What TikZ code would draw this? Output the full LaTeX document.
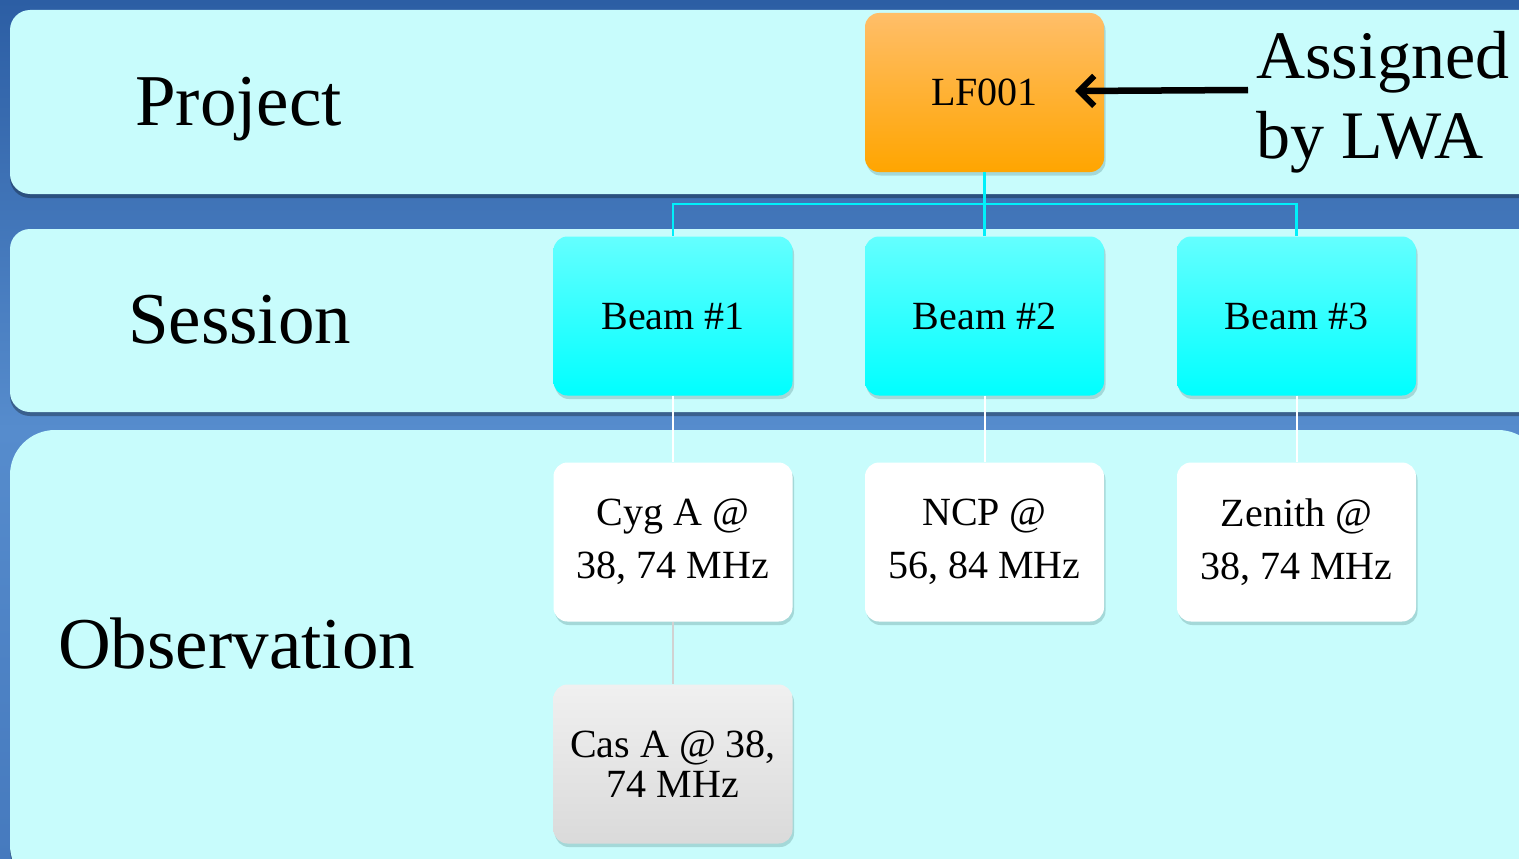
\documentclass[tikz,border=0pt]{standalone}
\usepackage{fontspec}
\setmainfont{Liberation Serif}
\usetikzlibrary{arrows.meta,shadows,calc}
\definecolor{bgtop}{RGB}{44,94,164}
\definecolor{bgmid}{RGB}{86,140,205}
\definecolor{bgbot}{RGB}{70,122,190}
\definecolor{bandc}{RGB}{200,252,252}
\definecolor{orangetop}{RGB}{255,190,105}
\definecolor{orangebot}{RGB}{255,165,0}
\definecolor{cyantop}{RGB}{100,255,255}
\definecolor{cyanbot}{RGB}{0,255,255}
\definecolor{graytop}{RGB}{240,240,240}
\definecolor{graybot}{RGB}{218,218,218}
\definecolor{shadowc}{RGB}{40,90,90}
\definecolor{linecyan}{RGB}{0,240,250}
\tikzset{
  band/.style={fill=bandc, drop shadow={shadow xshift=0pt, shadow yshift=-4pt, opacity=0.3, fill=black}},
  box/.style={minimum width=239pt, minimum height=159pt, rounded corners=14pt, inner sep=0pt,
    align=center, font=\fontsize{40}{53}\selectfont,
    drop shadow={shadow xshift=1.5pt, shadow yshift=-3.5pt, opacity=0.22, fill=shadowc}},
  orangebox/.style={box, top color=orangetop, bottom color=orangebot},
  cyanbox/.style={box, top color=cyantop, bottom color=cyanbot},
  whitebox/.style={box, fill=white},
  graybox/.style={box, top color=graytop, bottom color=graybot, font=\fontsize{40}{40}\selectfont},
  label/.style={anchor=base west, inner sep=0pt},
  bigtext/.style={font=\fontsize{73}{80}\selectfont},
  cyanline/.style={draw=linecyan, line width=2.5pt},
  whiteline/.style={draw=white, line width=2pt},
  grayline/.style={draw=black!18, line width=1.5pt},
  pointer/.style={draw=black, line width=6.5pt, -{Straight Barb[length=15pt, width=30pt, line width=6pt]}}
}
\begin{document}
\begin{tikzpicture}[x=1pt, y=-1pt]
\useasboundingbox (0,0) rectangle (1519,859);
\fill[top color=bgtop, bottom color=bgbot, middle color=bgmid] (0,0) rectangle (1519,859);
% bands
\path[band, rounded corners=20pt] (10,10) rectangle (1580,194);
\path[band, rounded corners=20pt] (10,229) rectangle (1580,412);
\path[band, rounded corners=45pt] (10,430) rectangle (1543,890);
% row labels
\node[label, bigtext] (proj) at (135,125) {Project};
\node[label, bigtext] (sess) at (128,343) {Session};
\node[label, bigtext] (obs) at (58,668) {Observation};
% boxes
\node[orangebox] (lf) at (984.5,92.5) {LF001};
\node[cyanbox] (b1) at (673,316) {Beam \#1};
\node[cyanbox] (b2) at (984.5,316) {Beam \#2};
\node[cyanbox] (b3) at (1296.5,316) {Beam \#3};
\node[whitebox] (c1) at (673,542) {Cyg A @\\38, 74 MHz};
\node[whitebox] (c2) at (984.5,542) {NCP @\\56, 84 MHz};
\node[whitebox] (c3) at (1296.5,542) {Zenith @\\38, 74 MHz};
\node[graybox] (c4) at (673,764) {Cas A @ 38,\\74 MHz};
% connectors
\draw[cyanline] (lf.south) -- (b2.north);
\draw[cyanline] (lf.south) -- ++(0,32) -| (b1.north);
\draw[cyanline] (lf.south) -- ++(0,32) -| (b3.north);
\draw[whiteline] (b1.south) -- (c1.north);
\draw[whiteline] (b2.south) -- (c2.north);
\draw[whiteline] (b3.south) -- (c3.north);
\draw[grayline] (c1.south) -- (c4.north);
% annotation
\node[label, font=\fontsize{68}{80}\selectfont] (asg1) at (1256,78) {Assigned};
\node[label, font=\fontsize{68}{80}\selectfont] (asg2) at (1256,158) {by LWA};
\coordinate (tail) at (1248,90);
\coordinate (tip) at (1075,91);
\draw[pointer] (tail) -- (tip);
\end{tikzpicture}
\end{document}
